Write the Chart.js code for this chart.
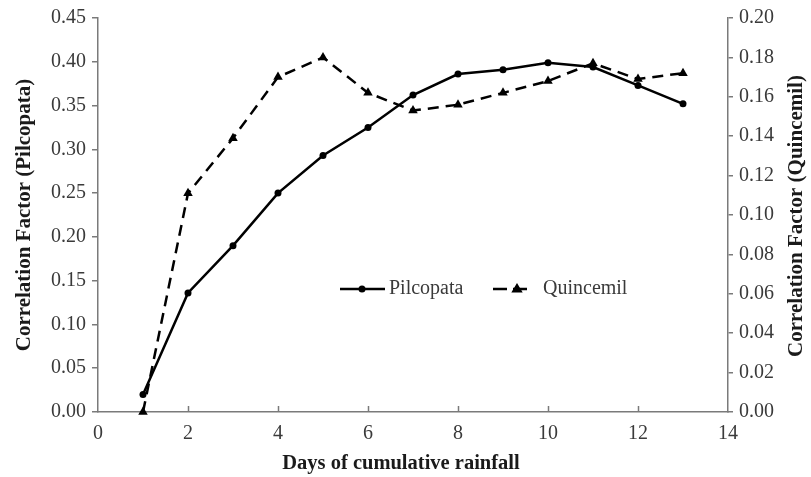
<!DOCTYPE html>
<html>
<head>
<meta charset="utf-8">
<script src="https://cdn.jsdelivr.net/npm/chart.js@4.4.1/dist/chart.umd.min.js"></script>
<style>
  html, body { margin: 0; padding: 0; background: #fff; }
  #wrap { width: 811px; height: 477px; }
</style>
</head>
<body>
<div id="wrap"><canvas id="c" width="811" height="477"></canvas></div>
<script>
const days = [1, 2, 3, 4, 5, 6, 7, 8, 9, 10, 11, 12, 13];
const pilcopata = [0.020, 0.136, 0.190, 0.250, 0.293, 0.325, 0.362, 0.386, 0.391, 0.399, 0.394, 0.373, 0.352];
const quincemil = [0.000, 0.111, 0.139, 0.170, 0.180, 0.162, 0.153, 0.156, 0.162, 0.168, 0.177, 0.169, 0.172];
const leftTicks = { min: 0, max: 0.45, step: 0.05 };
const rightTicks = { min: 0, max: 0.20, step: 0.02 };
const xTicks = { min: 0, max: 14, step: 2 };
const seriesNames = ['Pilcopata', 'Quincemil'];
const titles = {
  x: 'Days of cumulative rainfall',
  left: 'Correlation Factor (Pilcopata)',
  right: 'Correlation Factor (Quincemil)'
};

const SERIF = '"Liberation Serif", "Times New Roman", serif';
const AXIS_COLOR = '#7a7a7a';
const TEXT_COLOR = '#3a3a3a';
const TITLE_COLOR = '#1a1a1a';

const extras = {
  id: 'extras',
  afterDraw(chart) {
    const ctx = chart.ctx;
    const xs = chart.scales.x;
    const area = chart.chartArea;
    ctx.save();
    // inward x-axis tick marks
    ctx.strokeStyle = AXIS_COLOR;
    ctx.lineWidth = 1.5;
    for (let v = xTicks.min + xTicks.step; v < xTicks.max; v += xTicks.step) {
      const px = Math.round(xs.getPixelForValue(v)) + 0.5;
      ctx.beginPath();
      ctx.moveTo(px, area.bottom);
      ctx.lineTo(px, area.bottom - 6);
      ctx.stroke();
    }
    // x axis title
    ctx.fillStyle = TITLE_COLOR;
    ctx.font = 'bold 20.5px ' + SERIF;
    ctx.textAlign = 'center';
    ctx.textBaseline = 'middle';
    ctx.fillText(titles.x, 401, 464);
    // right axis title (reads bottom to top)
    ctx.font = 'bold 21px ' + SERIF;
    ctx.translate(797, 216);
    ctx.rotate(-Math.PI / 2);
    ctx.fillText(titles.right, 0, 0);
    ctx.restore();

    // legend
    ctx.save();
    const ly = 289;
    ctx.strokeStyle = '#000';
    ctx.fillStyle = '#000';
    ctx.lineWidth = 2.5;
    ctx.beginPath();
    ctx.moveTo(340, ly); ctx.lineTo(385, ly); ctx.stroke();
    ctx.beginPath(); ctx.arc(362, ly, 3.5, 0, Math.PI * 2); ctx.fill();
    ctx.setLineDash([14, 6]);
    ctx.beginPath();
    ctx.moveTo(493, ly); ctx.lineTo(530, ly); ctx.stroke();
    ctx.setLineDash([]);
    const tr = 6;
    ctx.beginPath();
    ctx.moveTo(517, ly - tr);
    ctx.lineTo(517 + tr * 0.95, ly + tr * 0.6);
    ctx.lineTo(517 - tr * 0.95, ly + tr * 0.6);
    ctx.closePath(); ctx.fill();
    ctx.fillStyle = TEXT_COLOR;
    ctx.font = '20px ' + SERIF;
    ctx.textAlign = 'left';
    ctx.textBaseline = 'middle';
    ctx.fillText(chart.data.datasets[0].label, 389, ly);
    ctx.fillText(chart.data.datasets[1].label, 543, ly);
    ctx.restore();
  }
};

new Chart(document.getElementById('c'), {
  type: 'line',
  data: {
    datasets: [
      {
        label: seriesNames[0],
        data: days.map((d, i) => ({ x: d, y: pilcopata[i] })),
        yAxisID: 'y',
        borderColor: '#000',
        backgroundColor: '#000',
        borderWidth: 2.5,
        pointStyle: 'circle',
        pointRadius: 3.5,
        pointBorderWidth: 0,
        tension: 0,
        clip: false
      },
      {
        label: seriesNames[1],
        data: days.map((d, i) => ({ x: d, y: quincemil[i] })),
        yAxisID: 'y2',
        borderColor: '#000',
        backgroundColor: '#000',
        borderWidth: 2.5,
        borderDash: [11, 7],
        pointStyle: 'triangle',
        pointRadius: 5.5,
        pointBorderWidth: 0,
        tension: 0,
        clip: false
      }
    ]
  },
  options: {
    responsive: false,
    animation: false,
    devicePixelRatio: 1,
    layout: { padding: { top: 16, left: 0, right: 0, bottom: 0 } },
    plugins: {
      legend: { display: false },
      tooltip: { enabled: false }
    },
    scales: {
      x: {
        type: 'linear',
        min: xTicks.min,
        max: xTicks.max,
        afterFit: s => { s.height = 65; },
        ticks: {
          stepSize: xTicks.step,
          color: TEXT_COLOR,
          font: { family: SERIF, size: 20 },
          padding: 10,
          maxRotation: 0
        },
        grid: { display: false, drawTicks: false, tickLength: 0 },
        border: { display: true, color: AXIS_COLOR, width: 1.5 }
      },
      y: {
        type: 'linear',
        position: 'left',
        min: leftTicks.min,
        max: leftTicks.max,
        afterFit: s => { s.width = 98; },
        afterBuildTicks: s => {
          const t = [];
          for (let v = leftTicks.min; v <= leftTicks.max + 1e-9; v += leftTicks.step) t.push({ value: +v.toFixed(2) });
          s.ticks = t;
        },
        ticks: {
          color: TEXT_COLOR,
          font: { family: SERIF, size: 20 },
          padding: 6,
          callback: v => Number(v).toFixed(2)
        },
        grid: { display: true, drawOnChartArea: false, drawTicks: true, tickLength: 6, color: AXIS_COLOR, lineWidth: 1.5 },
        border: { display: true, color: AXIS_COLOR, width: 1.5 },
        title: {
          display: true,
          text: titles.left,
          color: TITLE_COLOR,
          font: { family: SERIF, size: 21, weight: 'bold' },
          padding: { top: 11.5, bottom: 0 }
        }
      },
      y2: {
        type: 'linear',
        position: 'right',
        min: rightTicks.min,
        max: rightTicks.max,
        afterFit: s => { s.width = 83; },
        afterBuildTicks: s => {
          const t = [];
          for (let v = rightTicks.min; v <= rightTicks.max + 1e-9; v += rightTicks.step) t.push({ value: +v.toFixed(2) });
          s.ticks = t;
        },
        ticks: {
          color: TEXT_COLOR,
          font: { family: SERIF, size: 20 },
          padding: 6,
          callback: v => Number(v).toFixed(2)
        },
        grid: { display: true, drawOnChartArea: false, drawTicks: true, tickLength: 5, color: AXIS_COLOR, lineWidth: 1.5 },
        border: { display: true, color: AXIS_COLOR, width: 1.5 }
      }
    }
  },
  plugins: [extras]
});
</script>
</body>
</html>
